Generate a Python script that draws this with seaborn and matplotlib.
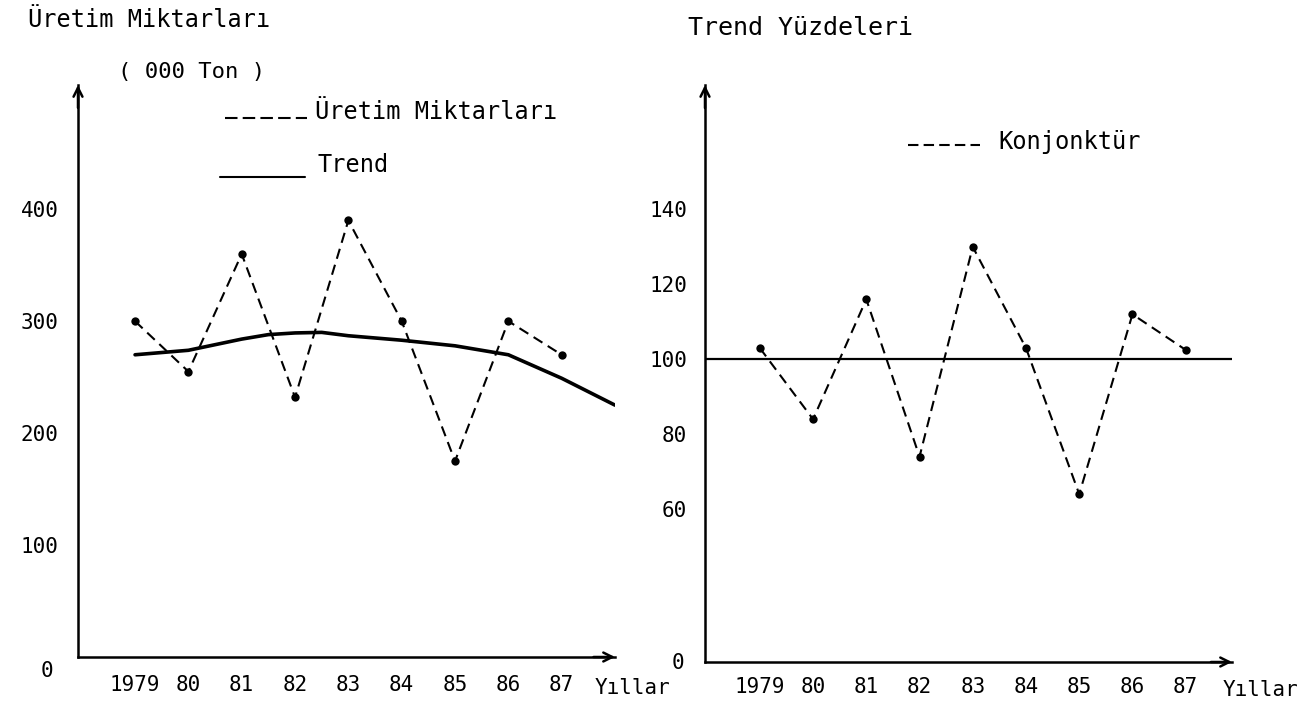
import matplotlib
matplotlib.use('Agg')
import matplotlib.pyplot as plt
import seaborn as sns
from matplotlib.lines import Line2D

# ---- data ----
years = [1979, 1980, 1981, 1982, 1983, 1984, 1985, 1986, 1987]
year_labels = ['1979', '80', '81', '82', '83', '84', '85', '86', '87']
production = [300, 255, 360, 232, 390, 300, 175, 300, 270]
trend_years = [1979, 1980, 1981, 1981.5, 1982, 1982.5, 1983, 1984, 1985, 1986, 1987, 1988]
trend_values = [270, 274, 284, 288, 289.5, 290, 287, 283, 278, 270, 249, 225]
konjonktur = [103, 84, 116, 74, 130, 103, 64, 112, 102.5]
left_yticks = [100, 200, 300, 400]
right_yticks = [60, 80, 100, 120, 140]
trend_base = 100

sns.set_theme(style='white')
plt.rcParams['font.family'] = ['DejaVu Sans Mono', 'DejaVu Sans']
plt.rcParams['text.color'] = 'black'

W, H = 1309, 710
fig = plt.figure(figsize=(W / 100, H / 100), dpi=100)
fig.patch.set_facecolor('white')


def fx(px):
    return px / W


def fy(py):
    return 1 - py / H


ax1 = fig.add_axes([fx(78), fy(657), fx(615) - fx(78), fy(85) - fy(657)])
ax2 = fig.add_axes([fx(705), fy(662), fx(1232) - fx(705), fy(85) - fy(662)])

# left panel
sns.lineplot(x=years, y=production, ax=ax1, color='black', lw=1.5,
             marker='o', markersize=6, markeredgewidth=0)
ax1.lines[-1].set_dashes([5, 3])
sns.lineplot(x=trend_years, y=trend_values, ax=ax1, color='black', lw=2.6)

# right panel
ax2.axhline(trend_base, color='black', lw=1.6)
sns.lineplot(x=years, y=konjonktur, ax=ax2, color='black', lw=1.5,
             marker='o', markersize=6, markeredgewidth=0)
ax2.lines[-1].set_dashes([5, 3])

ax1.set_xlim(1977.93, 1988.0)
ax1.set_ylim(0, 511)
ax2.set_xlim(1977.97, 1987.87)
ax2.set_ylim(19.2, 173.2)

for ax, yt, xpad, ypad in [(ax1, left_yticks, 13, 14), (ax2, right_yticks, 11, 13)]:
    ax.set_facecolor('white')
    ax.set_xticks(years)
    ax.set_xticklabels(year_labels)
    ax.set_yticks(yt)
    ax.set_yticklabels([str(v) for v in yt])
    ax.set_xlabel('')
    ax.set_ylabel('')
    ax.grid(False)
    for s in ['top', 'right']:
        ax.spines[s].set_visible(False)
    for s in ['left', 'bottom']:
        ax.spines[s].set_color('black')
        ax.spines[s].set_linewidth(1.8)
    ax.tick_params(axis='both', direction='in', length=3, width=1.2,
                   colors='black', labelsize=15)
    ax.tick_params(axis='x', pad=xpad)
    ax.tick_params(axis='y', pad=ypad)
    ax.annotate('', xy=(0, 1.0), xycoords='axes fraction', xytext=(0, 0.96),
                arrowprops=dict(arrowstyle='->', color='black', lw=1.8,
                                mutation_scale=16, shrinkA=0, shrinkB=0))
    ax.annotate('', xy=(1.0, 0), xycoords='axes fraction', xytext=(0.96, 0),
                arrowprops=dict(arrowstyle='->', color='black', lw=1.8,
                                mutation_scale=16, shrinkA=0, shrinkB=0))

# corner zero labels
fig.text(fx(47), fy(671), '0', fontsize=15, ha='center', va='center', color='black')
fig.text(fx(678), fy(663), '0', fontsize=15, ha='center', va='center', color='black')

# axis titles
fig.text(fx(28), fy(20), 'Üretim Miktarları', fontsize=17, ha='left', va='center', color='black')
fig.text(fx(118), fy(72), '( 000 Ton )', fontsize=16, ha='left', va='center', color='black')
fig.text(fx(688), fy(28), 'Trend Yüzdeleri', fontsize=18, ha='left', va='center', color='black')
fig.text(fx(595), fy(688), 'Yıllar', fontsize=15, ha='left', va='center', color='black')
fig.text(fx(1223), fy(690), 'Yıllar', fontsize=15, ha='left', va='center', color='black')

# hand-drawn legends
fig.add_artist(Line2D([fx(225), fx(307)], [fy(118), fy(118)], transform=fig.transFigure,
                      color='black', lw=1.5, dashes=[6, 2.5]))
fig.text(fx(315), fy(112), 'Üretim Miktarları', fontsize=17, ha='left', va='center', color='black')
fig.add_artist(Line2D([fx(220), fx(305)], [fy(177), fy(177)], transform=fig.transFigure,
                      color='black', lw=1.5))
fig.text(fx(317), fy(165), 'Trend', fontsize=17, ha='left', va='center', color='black')
fig.add_artist(Line2D([fx(908), fx(980)], [fy(145), fy(145)], transform=fig.transFigure,
                      color='black', lw=1.5, dashes=[5, 2.5]))
fig.text(fx(998), fy(142), 'Konjonktür', fontsize=17, ha='left', va='center', color='black')

fig.savefig('out.png', dpi=100, facecolor='white')
